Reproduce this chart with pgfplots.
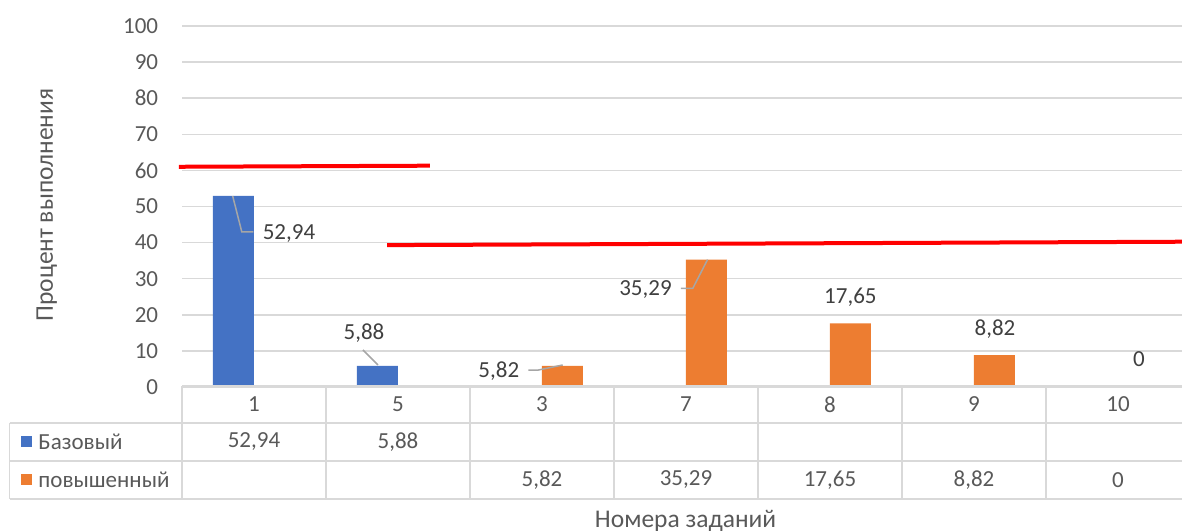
\documentclass[border=0pt]{standalone}
\usepackage{fontspec}
\setmainfont{Carlito}
\usepackage{pgfplots}
\pgfplotsset{compat=1.18}
\definecolor{cblue}{HTML}{4472C4}
\definecolor{corange}{HTML}{ED7D31}
\definecolor{cgrid}{HTML}{D9D9D9}
\definecolor{ctext}{HTML}{595959}
\definecolor{clabel}{HTML}{404040}
\definecolor{cleader}{HTML}{A6A6A6}
\newcommand{\tf}{\fontsize{23bp}{27bp}\selectfont}
\newcommand{\titf}{\fontsize{25.5bp}{30bp}\selectfont}
\begin{document}
\begin{tikzpicture}[x=1bp,y=1bp,font=\tf]
\path[use as bounding box] (0,0) rectangle (1182,531);
\begin{axis}[
  at={(182bp,144bp)}, anchor=south west,
  scale only axis, width=1008bp, height=361bp,
  xmin=-0.5, xmax=6.5, ymin=0, ymax=100,
  axis line style={draw=none},
  xtick=\empty,
  ytick={0,10,...,100},
  major tick length=0pt,
  ymajorgrids, grid style={cgrid, line width=1.5bp},
  yticklabel style={font=\tf, text=ctext, inner sep=0pt, anchor=east, xshift=-23.7bp},
  /pgf/number format/assume math mode=true,
  clip=false,
]
\addplot[ybar, bar width=0.2847, bar shift=-0.1424, fill=cblue, draw=none]
  coordinates {(0,52.94) (1,5.88)};
\addplot[ybar, bar width=0.2847, bar shift=0.1424, fill=corange, draw=none]
  coordinates {(2,5.82) (3,35.29) (4,17.65) (5,8.82) (6,0)};
% target lines
\addplot[red, line width=4bp] coordinates {(-0.521,61.0) (1.222,61.3)};
\addplot[red, line width=4bp] coordinates {(0.924,39.3) (6.5,40.25)};
% leader lines
\addplot[cleader, line width=1.5bp] coordinates {(-0.148,52.9) (-0.085,43.0) (-0.005,43.0)};
\addplot[cleader, line width=1.5bp] coordinates {(0.757,10.25) (0.861,6.1)};
\addplot[cleader, line width=1.5bp] coordinates {(1.905,4.7) (1.975,4.7) (2.144,6.1)};
\addplot[cleader, line width=1.5bp] coordinates {(2.965,27.3) (3.047,27.3) (3.150,35.3)};
% data labels
\node[text=clabel] at (axis cs:0.243,42.4) {52,94};
\node[text=clabel] at (axis cs:0.764,15.0) {5,88};
\node[text=clabel] at (axis cs:1.700,4.5) {5,82};
\node[text=clabel] at (axis cs:2.719,26.9) {35,29};
\node[text=clabel] at (axis cs:4.142,24.8) {17,65};
\node[text=clabel] at (axis cs:5.146,16.0) {8,82};
\node[text=clabel] at (axis cs:6.146,7.7) {0};
\end{axis}
% data table
\begin{scope}[cgrid, line width=1.5bp]
\draw (182,145) -- (1190,145);
\draw (9.6,108) -- (1190,108);
\draw (9.6,70) -- (1190,70);
\draw (9.6,32) -- (1190,32);
\draw (9.6,108) -- (9.6,32);
\foreach \k in {0,...,7} {\draw (182+144*\k,145) -- (182+144*\k,32);}
\end{scope}
\foreach \c [count=\i from 0] in {1,5,3,7,8,9,10}
  {\node[text=ctext] at (254+144*\i,126.5) {\c};}
\node[text=ctext] at (254,89) {52,94};
\node[text=ctext] at (398,89) {5,88};
\foreach \v [count=\i from 2] in {5,82,35,29,17,65,8,82,0}
  {}
\node[text=ctext] at (542,51) {5,82};
\node[text=ctext] at (686,51) {35,29};
\node[text=ctext] at (830,51) {17,65};
\node[text=ctext] at (974,51) {8,82};
\node[text=ctext] at (1118,51) {0};
\fill[cblue] (20.5,84.2) rectangle (31.5,95.2);
\fill[corange] (20.5,45.8) rectangle (31.5,56.8);
\node[text=ctext, anchor=west, inner sep=0pt] at (38.3,89) {Базовый};
\node[text=ctext, anchor=west, inner sep=0pt] at (38.3,51) {повышенный};
% axis titles
\node[text=ctext, rotate=90, font=\titf] at (46.7,326) {Процент выполнения};
\node[text=ctext, anchor=base, font=\titf] at (685.6,3) {Номера заданий};
\end{tikzpicture}
\end{document}
